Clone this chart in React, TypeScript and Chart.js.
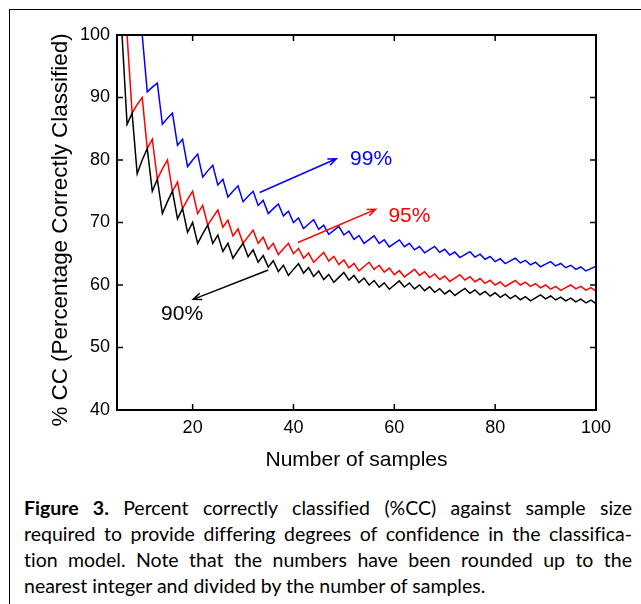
import React, { useEffect, useRef } from 'react';
import { Chart, registerables } from 'chart.js';

Chart.register(...registerables);

// Number of samples (x axis)
const SAMPLES = [
  5, 6, 7, 8, 9, 10, 11, 12, 13, 14,
  15, 16, 17, 18, 19, 20, 21, 22, 23, 24,
  25, 26, 27, 28, 29, 30, 31, 32, 33, 34,
  35, 36, 37, 38, 39, 40, 41, 42, 43, 44,
  45, 46, 47, 48, 49, 50, 51, 52, 53, 54,
  55, 56, 57, 58, 59, 60, 61, 62, 63, 64,
  65, 66, 67, 68, 69, 70, 71, 72, 73, 74,
  75, 76, 77, 78, 79, 80, 81, 82, 83, 84,
  85, 86, 87, 88, 89, 90, 91, 92, 93, 94,
  95, 96, 97, 98, 99, 100,
];

// Number correctly classified (rounded up integer) for each sample size
const CORRECT_90 = [
  5, 6, 6, 7, 7, 8, 9, 9, 10, 10,
  11, 12, 12, 13, 13, 14, 14, 15, 16, 16,
  17, 17, 18, 18, 19, 20, 20, 21, 21, 22,
  22, 23, 23, 24, 24, 25, 26, 26, 27, 27,
  28, 28, 29, 29, 30, 31, 31, 32, 32, 33,
  33, 34, 34, 35, 35, 36, 37, 37, 38, 38,
  39, 39, 40, 40, 41, 41, 42, 42, 43, 44,
  44, 45, 45, 46, 46, 47, 47, 48, 48, 49,
  49, 50, 50, 51, 52, 52, 53, 53, 54, 54,
  55, 55, 56, 56, 57, 57,
];
const CORRECT_95 = [
  5, 6, 7, 7, 8, 9, 9, 10, 10, 11,
  12, 12, 13, 13, 14, 15, 15, 16, 16, 17,
  18, 18, 19, 19, 20, 20, 21, 22, 22, 23,
  23, 24, 24, 25, 26, 26, 27, 27, 28, 28,
  29, 30, 30, 31, 31, 32, 32, 33, 33, 34,
  35, 35, 36, 36, 37, 37, 38, 38, 39, 40,
  40, 41, 41, 42, 42, 43, 43, 44, 45, 45,
  46, 46, 47, 47, 48, 48, 49, 49, 50, 51,
  51, 52, 52, 53, 53, 54, 54, 55, 55, 56,
  57, 57, 58, 58, 59, 59,
];
const CORRECT_99 = [
  5, 6, 7, 8, 9, 10, 10, 11, 12, 12,
  13, 14, 14, 15, 15, 16, 17, 17, 18, 19,
  19, 20, 20, 21, 22, 22, 23, 24, 24, 25,
  25, 26, 27, 27, 28, 28, 29, 29, 30, 31,
  31, 32, 32, 33, 34, 34, 35, 35, 36, 36,
  37, 38, 38, 39, 39, 40, 41, 41, 42, 42,
  43, 43, 44, 45, 45, 46, 46, 47, 47, 48,
  49, 49, 50, 50, 51, 51, 52, 52, 53, 54,
  54, 55, 55, 56, 56, 57, 58, 58, 59, 59,
  60, 60, 61, 61, 62, 63,
];

const X_TICKS = [20, 40, 60, 80, 100];
const Y_TICKS = [40, 50, 60, 70, 80, 90, 100];
const SERIES_LABELS = ['90%', '95%', '99%'];
const SERIES_COLORS = ['#000000', '#ff0000', '#0000ff'];
const Y_TITLE = '% CC (Percentage Correctly Classified)';
const X_TITLE = 'Number of samples';

// Annotation arrows (data coordinates: [samples, %CC])
const ARROW_FROM = [[35, 62.4], [40.9, 66.8], [33.3, 74.8]];
const ARROW_TO = [[20.1, 57.7], [56.3, 72.1], [48.5, 80.2]];
const LABEL_AT = [[17.9, 55.4], [63.0, 71.0], [55.4, 80.2]];

const CAPTION_LINES = [
  'Percent correctly classified (%CC) against sample size',
  'required to provide differing degrees of confidence in the classifica-',
  'tion model. Note that the numbers have been rounded up to the',
  'nearest integer and divided by the number of samples.',
];

const FONT = '"Liberation Sans", Arial, sans-serif';

const toPoints = (counts: number[]) =>
  SAMPLES.map((n, i) => ({ x: n, y: (100 * counts[i]) / n }));

const framePlugin = {
  id: 'matlabFrame',
  afterDatasetsDraw(chart: any) {
    const { ctx, chartArea: a, scales } = chart;
    const xs = scales.x;
    const ys = scales.y;
    ctx.save();
    ctx.strokeStyle = '#000';
    ctx.lineWidth = 2;
    ctx.strokeRect(a.left, a.top, a.right - a.left, a.bottom - a.top);
    ctx.lineWidth = 1.5;
    const L = 6;
    ctx.beginPath();
    X_TICKS.forEach((v) => {
      const px = xs.getPixelForValue(v);
      ctx.moveTo(px, a.bottom);
      ctx.lineTo(px, a.bottom - L);
      ctx.moveTo(px, a.top);
      ctx.lineTo(px, a.top + L);
    });
    Y_TICKS.forEach((v) => {
      const py = ys.getPixelForValue(v);
      ctx.moveTo(a.left, py);
      ctx.lineTo(a.left + L, py);
      ctx.moveTo(a.right, py);
      ctx.lineTo(a.right - L, py);
    });
    ctx.stroke();

    // arrows
    ARROW_FROM.forEach((f, i) => {
      const t = ARROW_TO[i];
      const x1 = xs.getPixelForValue(f[0]);
      const y1 = ys.getPixelForValue(f[1]);
      const x2 = xs.getPixelForValue(t[0]);
      const y2 = ys.getPixelForValue(t[1]);
      const ang = Math.atan2(y2 - y1, x2 - x1);
      const head = 9;
      const spread = 0.38;
      ctx.strokeStyle = SERIES_COLORS[i];
      ctx.lineWidth = 1.5;
      ctx.beginPath();
      ctx.moveTo(x1, y1);
      ctx.lineTo(x2, y2);
      ctx.moveTo(x2 - head * Math.cos(ang - spread), y2 - head * Math.sin(ang - spread));
      ctx.lineTo(x2, y2);
      ctx.lineTo(x2 - head * Math.cos(ang + spread), y2 - head * Math.sin(ang + spread));
      ctx.stroke();
    });

    // labels
    ctx.font = '21px ' + FONT;
    ctx.textAlign = 'center';
    ctx.textBaseline = 'middle';
    LABEL_AT.forEach((p, i) => {
      ctx.fillStyle = SERIES_COLORS[i];
      ctx.fillText(SERIES_LABELS[i], xs.getPixelForValue(p[0]), ys.getPixelForValue(p[1]));
    });

    // y axis title
    ctx.save();
    ctx.translate(61, 230);
    ctx.rotate(-Math.PI / 2);
    ctx.font = '22.4px ' + FONT;
    ctx.fillStyle = '#000';
    ctx.textAlign = 'center';
    ctx.textBaseline = 'middle';
    ctx.fillText(Y_TITLE, 0, 0);
    ctx.restore();

    ctx.restore();
  },
};

export default function App() {
  const canvasRef = useRef<HTMLCanvasElement | null>(null);

  useEffect(() => {
    const canvas = canvasRef.current;
    if (!canvas) return;
    const datasets = [CORRECT_90, CORRECT_95, CORRECT_99].map((c, i) => ({
      label: SERIES_LABELS[i],
      data: toPoints(c),
      borderColor: SERIES_COLORS[i],
      backgroundColor: SERIES_COLORS[i],
      borderWidth: 1.5,
      pointRadius: 0,
      tension: 0,
      fill: false,
    }));
    const chart = new Chart(canvas, {
      type: 'line',
      data: { datasets },
      options: {
        animation: false,
        responsive: false,
        maintainAspectRatio: false,
        layout: { padding: { left: 0, right: 45, top: 35, bottom: 0 } },
        plugins: {
          legend: { display: false },
          tooltip: { enabled: false },
        },
        scales: {
          x: {
            type: 'linear',
            min: 5,
            max: 100,
            grid: { display: false, drawTicks: false },
            border: { display: false },
            afterBuildTicks: (s: any) => {
              s.ticks = X_TICKS.map((v) => ({ value: v }));
            },
            afterFit: (s: any) => {
              s.height = 70;
            },
            ticks: {
              color: '#000',
              padding: 7,
              maxRotation: 0,
              font: { family: FONT, size: 18 },
            },
            title: {
              display: true,
              text: X_TITLE,
              color: '#000',
              font: { family: FONT, size: 21 },
              padding: { top: 0, bottom: 7 },
            },
          },
          y: {
            type: 'linear',
            min: 40,
            max: 100,
            grid: { display: false, drawTicks: false },
            border: { display: false },
            afterBuildTicks: (s: any) => {
              s.ticks = Y_TICKS.map((v) => ({ value: v }));
            },
            afterFit: (s: any) => {
              s.width = 117;
            },
            ticks: {
              color: '#000',
              padding: 7,
              font: { family: FONT, size: 18 },
            },
            title: { display: false },
          },
        },
      },
      plugins: [framePlugin],
    });
    return () => chart.destroy();
  }, []);

  const lineStyle = (last: boolean): React.CSSProperties =>
    ({
      height: 26,
      lineHeight: '26px',
      textAlign: last ? 'left' : 'justify',
      textAlignLast: last ? 'left' : 'justify',
      whiteSpace: 'normal',
    } as React.CSSProperties);

  return (
    <div
      style={{
        position: 'fixed',
        left: 0,
        top: 0,
        width: 641,
        height: 604,
        overflow: 'hidden',
        background: '#fff',
      }}
    >
      <div
        style={{
          position: 'absolute',
          left: 9,
          top: 9,
          width: 800,
          height: 800,
          borderLeft: '1.5px solid #000',
          borderTop: '1.5px solid #000',
        }}
      />
      <canvas
        ref={canvasRef}
        width={641}
        height={480}
        style={{ position: 'absolute', left: 0, top: 0, width: 641, height: 480 }}
      />
      <div
        style={{
          position: 'absolute',
          left: 24,
          top: 495,
          width: 608,
          fontFamily: 'Lato, "Open Sans", sans-serif',
          fontSize: 19.5,
          fontVariantLigatures: 'none',
          color: '#000',
        }}
      >
        {CAPTION_LINES.map((line, i) => (
          <div key={i} style={lineStyle(i === CAPTION_LINES.length - 1)}>
            {i === 0 ? (
              <>
                <b>Figure 3.</b> {line}
              </>
            ) : (
              line
            )}
          </div>
        ))}
      </div>
    </div>
  );
}
